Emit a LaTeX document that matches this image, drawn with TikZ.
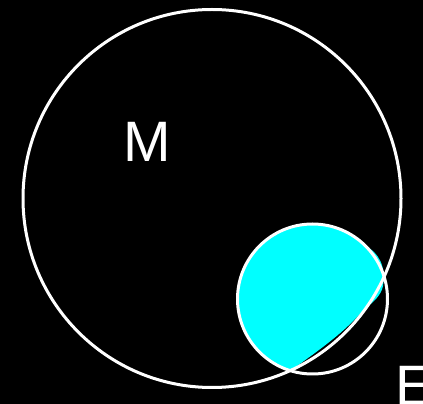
\documentclass[tikz,border=0pt]{standalone}
\usepackage{fontspec}
\setmainfont{Liberation Sans}
\definecolor{aqua}{RGB}{0,255,255}
\begin{document}
\begin{tikzpicture}[x=1pt,y=1pt,
  ring/.style={draw=white,line width=3pt},
  lbl/.style={text=white,inner sep=0pt,font=\fontsize{57}{57}\selectfont}]
\fill[black] (0,0) rectangle (423,404);
\useasboundingbox (0,0) rectangle (423,404);
\fill[aqua] (290.6,33.3) arc[start angle=253,end angle=46,radius=75pt]
  .. controls (379,151) and (386,138) .. (383,118)
  .. controls (381,108) and (373,102) .. (365,95)
  -- (348,78)
  .. controls (330,61) and (305,44) .. (290.6,33.3) -- cycle;
\node[ring,circle,minimum size=378pt,inner sep=0pt] (M) at (212,205.5) {};
\node[ring,circle,minimum size=150pt,inner sep=0pt] (E) at (312.5,105) {};
\node[lbl] (Mlabel) at (147,262) {M};
\node[lbl,anchor=base west] (Elabel) at (395,-2) {E};
\end{tikzpicture}
\end{document}
